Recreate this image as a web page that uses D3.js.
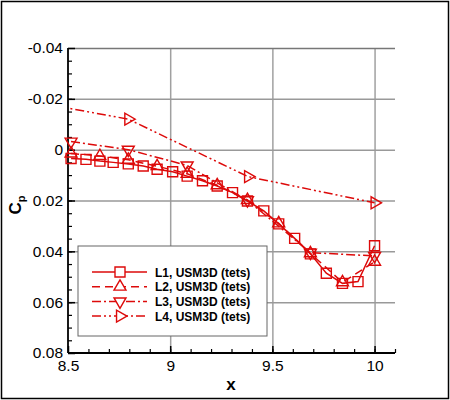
<!DOCTYPE html>
<html>
<head>
<meta charset="utf-8">
<script src="https://cdn.jsdelivr.net/npm/d3@7"></script>
<style>
  body { margin: 0; background: #fff; }
  svg text { font-family: "Liberation Sans", Arial, sans-serif; }
</style>
</head>
<body>
<div class="graph"></div>
<script>
// data
let l1X = [8.515, 8.588, 8.656, 8.721, 8.795, 8.868, 8.936, 9.012, 9.083, 9.158, 9.23,
           9.305, 9.378, 9.458, 9.531, 9.609, 9.686, 9.764, 9.843, 9.919, 10.0]
let l1Cp = [0.0035, 0.0038, 0.0045, 0.005, 0.0056, 0.0064, 0.0077, 0.0087, 0.0104, 0.0122, 0.0143,
            0.0169, 0.0202, 0.0241, 0.0292, 0.0349, 0.041, 0.0486, 0.0526, 0.0519, 0.0378]

let l2X = [8.515, 8.656, 8.795, 8.936, 9.083, 9.23, 9.378, 9.531, 9.686, 9.843, 10.0]
let l2Cp = [0.0015, 0.0025, 0.004, 0.0065, 0.0095, 0.014, 0.0198, 0.029, 0.0408, 0.0522, 0.0441]

let l3X = [8.515, 8.795, 9.083, 9.378, 9.686, 10.0]
let l3Cp = [-0.0032, 0.0, 0.0062, 0.0199, 0.0405, 0.0418]

let l4X = [8.218, 8.795, 9.381, 10.0]
let l4Cp = [-0.0205, -0.012, 0.0106, 0.0209]

let seriesNames = ['L1, USM3D (tets)', 'L2, USM3D (tets)', 'L3, USM3D (tets)', 'L4, USM3D (tets)']
let xTicks = [8.5, 9, 9.5, 10]
let yTicks = [-0.04, -0.02, 0, 0.02, 0.04, 0.06, 0.08]

let red = '#dd0a0a'
let svgWidth = 450
let svgHeight = 400

// plot box
let plotLeft = 68, plotRight = 395, plotTop = 48, plotBottom = 353

let svg = d3.select('.graph')
    .append('svg')
    .attr('width', svgWidth)
    .attr('height', svgHeight)

// outer frame
svg.append('rect')
    .attr('x', 1.5).attr('y', 1.5)
    .attr('width', svgWidth - 3).attr('height', svgHeight - 3)
    .attr('fill', 'none')
    .attr('stroke', '#000')
    .attr('stroke-width', 1.5)

let xScale = d3.scaleLinear().domain([8.5, 10.1]).range([plotLeft, plotRight])
let yScale = d3.scaleLinear().domain([-0.04, 0.08]).range([plotTop, plotBottom])

// grid lines
svg.append('g')
    .attr('transform', `translate(0,${plotBottom})`)
    .call(d3.axisBottom(xScale).tickValues(xTicks.slice(1)).tickSize(-(plotBottom - plotTop)).tickFormat(''))
    .call(g => g.select('.domain').remove())
    .selectAll('line').attr('stroke', '#a0a0a0').attr('stroke-width', 1.5)

svg.append('g')
    .attr('transform', `translate(${plotLeft},0)`)
    .call(d3.axisLeft(yScale).tickValues(yTicks.slice(0, -1)).tickSize(-(plotRight - plotLeft)).tickFormat(''))
    .call(g => g.select('.domain').remove())
    .selectAll('line').attr('stroke', (d, i) => i == 0 ? '#777' : '#999').attr('stroke-width', 1.5)

// minor ticks
svg.append('g')
    .attr('transform', `translate(0,${plotBottom})`)
    .call(d3.axisBottom(xScale).tickValues(d3.range(8.6, 10.15, 0.1)).tickSize(-4).tickFormat(''))
    .call(g => g.select('.domain').remove())
    .selectAll('line').attr('stroke-width', 1.2)

svg.append('g')
    .attr('transform', `translate(${plotLeft},0)`)
    .call(d3.axisLeft(yScale).tickValues(d3.range(-0.035, 0.08, 0.005)).tickSize(-4).tickFormat(''))
    .call(g => g.select('.domain').remove())
    .selectAll('line').attr('stroke-width', 1.2)

// main axes
let xAxis = svg.append('g')
    .attr('transform', `translate(0,${plotBottom})`)
    .call(d3.axisBottom(xScale).tickValues(xTicks).tickSize(-7).tickPadding(7)
        .tickFormat(d => String(d)))
xAxis.select('.domain').attr('stroke-width', 1.8).attr('d', `M${plotLeft},0H${plotRight}`)
xAxis.selectAll('.tick line').attr('stroke-width', 1.5)

let yAxis = svg.append('g')
    .attr('transform', `translate(${plotLeft},0)`)
    .call(d3.axisLeft(yScale).tickValues(yTicks).tickSize(-7).tickPadding(5)
        .tickFormat(d => d == 0 ? '0' : (d < 0 ? '-' : '') + Math.abs(d).toFixed(2)))
yAxis.select('.domain').attr('stroke-width', 1.8).attr('d', `M0,${plotTop}V${plotBottom}`)
yAxis.selectAll('.tick line').attr('stroke-width', 1.5)

xAxis.selectAll('text').attr('font-size', '15.5px').attr('fill', '#000')
yAxis.selectAll('text').attr('font-size', '15.5px').attr('fill', '#000')

// axis titles
svg.append('text')
    .attr('x', 231).attr('y', 390)
    .attr('text-anchor', 'middle')
    .attr('font-size', '17px').attr('font-weight', 'bold')
    .text('x')

let cpLabel = svg.append('text')
    .attr('transform', 'translate(21,205) rotate(-90)')
    .attr('text-anchor', 'middle')
    .attr('font-size', '17px').attr('font-weight', 'bold')
cpLabel.append('tspan').text('C')
cpLabel.append('tspan').attr('font-size', '11px').attr('dy', 4).text('p')

// series
let series = [
    {x: l1X, y: l1Cp, dash: null, marker: 'square'},
    {x: l2X, y: l2Cp, dash: '8,5', marker: 'up'},
    {x: l3X, y: l3Cp, dash: '9,3,2,3', marker: 'down'},
    {x: l4X, y: l4Cp, dash: '9,3,2,3,2,3', marker: 'right'}
]

svg.append('clipPath').attr('id', 'plotClip')
    .append('rect').attr('x', plotLeft).attr('y', plotTop)
    .attr('width', plotRight - plotLeft).attr('height', plotBottom - plotTop)

let line = d3.line()
    .x(d => xScale(d[0]))
    .y(d => yScale(d[1]))

let squareSym = d3.symbol().type(d3.symbolSquare).size(100)
let triSym = d3.symbol().type(d3.symbolTriangle).size(62)

function markerPath(type) {
    return type == 'square' ? squareSym() : triSym()
}
function markerRot(type) {
    if (type == 'down') return 180
    if (type == 'right') return 90
    return 0
}

series.forEach(function(s) {
    let pts = s.x.map((v, i) => [v, s.y[i]])
    svg.append('path')
        .attr('clip-path', 'url(#plotClip)')
        .attr('d', line(pts))
        .attr('fill', 'none')
        .attr('stroke', red)
        .attr('stroke-width', 1.5)
        .attr('stroke-dasharray', s.dash)

    svg.append('g').selectAll('path')
        .data(pts.filter(p => p[0] >= 8.5))
        .enter().append('path')
        .attr('d', markerPath(s.marker))
        .attr('transform', p => `translate(${xScale(p[0])},${yScale(p[1])}) rotate(${markerRot(s.marker)})`)
        .attr('fill', 'none')
        .attr('stroke', red)
        .attr('stroke-width', 1.4)
})

// legend
let legend = svg.append('g')
legend.append('rect')
    .attr('x', 78).attr('y', 246)
    .attr('width', 189).attr('height', 90)
    .attr('fill', '#fff')
    .attr('stroke', '#666')
    .attr('stroke-width', 1)

seriesNames.forEach(function(name, i) {
    let ly = 272 + i * 14.7
    legend.append('line')
        .attr('x1', 92).attr('x2', 147)
        .attr('y1', ly).attr('y2', ly)
        .attr('stroke', red)
        .attr('stroke-width', 1.5)
        .attr('stroke-dasharray', series[i].dash)
    legend.append('path')
        .attr('d', markerPath(series[i].marker))
        .attr('transform', `translate(120,${ly}) rotate(${markerRot(series[i].marker)})`)
        .attr('fill', '#fff')
        .attr('stroke', red)
        .attr('stroke-width', 1.4)
    legend.append('text')
        .attr('x', 155).attr('y', ly + 4.5)
        .attr('font-size', '12px')
        .attr('font-weight', 'bold')
        .text(name)
})
</script>
</body>
</html>
